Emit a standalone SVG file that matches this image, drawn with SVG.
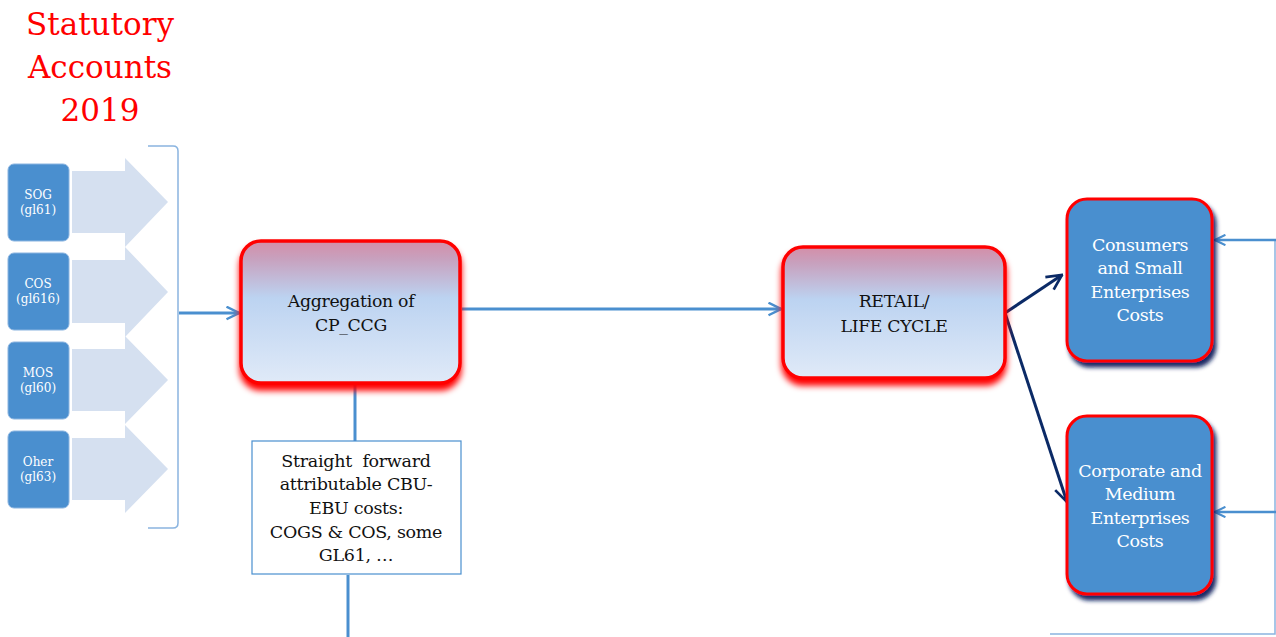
<svg xmlns="http://www.w3.org/2000/svg" width="1276" height="637" viewBox="0 0 1276 637">
<style>
.t{font-family:"DejaVu Serif","Liberation Serif",serif;text-anchor:middle}
.title{fill:#ff0000;font-size:31px}
.small{fill:#ffffff;font-size:12px}
.mid{fill:#111111;font-size:17.3px;letter-spacing:-0.3px}
.wt{fill:#ffffff;font-size:17.5px;letter-spacing:-0.4px}
.blk{fill:#111111;font-size:17.5px;letter-spacing:-0.3px}
.src{fill:#4a8fcf;stroke:#8ab4e0;stroke-width:1}
.bigarr{fill:#d5e0f0}
.grad{fill:url(#g1);stroke:#ff0000;stroke-width:3.5}
.blue{fill:#4a8fcf;stroke:#ff0000;stroke-width:3}
.ln{stroke:#4a8fcf;stroke-width:3;fill:none}
.ln2{stroke:#8ab4e0;stroke-width:1.5;fill:none}
.dk{stroke:#0b2a66;stroke-width:3;fill:none}
</style>
<defs>
<linearGradient id="g1" x1="0" y1="0" x2="0" y2="1">
<stop offset="0" stop-color="#d48ea8"/>
<stop offset="0.12" stop-color="#c8a0bd"/>
<stop offset="0.4" stop-color="#bcd3f1"/>
<stop offset="1" stop-color="#e0eaf8"/>
</linearGradient>
<filter id="redsh" x="-20%" y="-20%" width="140%" height="150%">
<feDropShadow dx="0" dy="6" stdDeviation="3" flood-color="#ff0000" flood-opacity="1"/>
</filter>
<filter id="navysh" x="-20%" y="-20%" width="140%" height="150%">
<feDropShadow dx="3" dy="5" stdDeviation="2" flood-color="#0b1f5c" flood-opacity="0.95"/>
</filter>
<marker id="ab" viewBox="0 0 12 12" refX="11" refY="6" markerWidth="5" markerHeight="5" markerUnits="strokeWidth" orient="auto">
<path d="M1,1 L11,6 L1,11" fill="none" stroke="#4a8fcf" stroke-width="2"/>
</marker>
<marker id="ad" viewBox="0 0 12 12" refX="11" refY="6" markerWidth="6" markerHeight="6" markerUnits="strokeWidth" orient="auto">
<path d="M1,1 L11,6 L1,11" fill="none" stroke="#0b2a66" stroke-width="1.8"/>
</marker>
</defs>
<rect width="1276" height="637" fill="#ffffff"/>

<g id="title">
<text class="t title" x="100" y="35">Statutory</text>
<text class="t title" x="100" y="78">Accounts</text>
<text class="t title" x="100" y="121">2019</text>
</g>

<g id="big-arrows">
<polygon class="bigarr" points="72,171 125,171 125,158 168,202 125,247 125,233 72,233"/>
<polygon class="bigarr" points="72,260 125,260 125,247 168,292 125,337 125,323 72,323"/>
<polygon class="bigarr" points="72,349 125,349 125,336 168,380 125,424 125,411 72,411"/>
<polygon class="bigarr" points="72,438 125,438 125,425 168,469 125,513 125,500 72,500"/>
</g>

<g id="sog"><rect class="src" x="8" y="164" width="61" height="77" rx="6"/>
<text class="t small" x="38" y="199">SOG</text><text class="t small" x="38" y="214">(gl61)</text></g>
<g id="cos"><rect class="src" x="8" y="253" width="61" height="77" rx="6"/>
<text class="t small" x="38" y="288">COS</text><text class="t small" x="38" y="303">(gl616)</text></g>
<g id="mos"><rect class="src" x="8" y="342" width="61" height="77" rx="6"/>
<text class="t small" x="38" y="377">MOS</text><text class="t small" x="38" y="392">(gl60)</text></g>
<g id="oher"><rect class="src" x="8" y="431" width="61" height="77" rx="6"/>
<text class="t small" x="38" y="466">Oher</text><text class="t small" x="38" y="481">(gl63)</text></g>

<g id="bracket">
<path class="ln2" d="M148,146 L173,146 Q178,146 178,151 L178,523 Q178,528 173,528 L148,528"/>
</g>

<g id="connectors">
<line class="ln" x1="179" y1="313" x2="239" y2="313" marker-end="url(#ab)"/>
<line class="ln" x1="462" y1="309" x2="781" y2="309" marker-end="url(#ab)"/>
<line class="ln" x1="355" y1="385" x2="355" y2="441"/>
<line class="ln" x1="348" y1="575" x2="348" y2="637"/>
<line class="dk" x1="1005" y1="313" x2="1062" y2="275" marker-end="url(#ad)"/>
<line class="dk" x1="1005" y1="313" x2="1067" y2="502" marker-end="url(#ad)"/>
<polyline class="ln2" points="1050,634 1275,634 1275,240"/>
<line class="ln" x1="1276" y1="240" x2="1215" y2="240" marker-end="url(#ab)" style="stroke-width:2.5"/>
<line class="ln" x1="1276" y1="512" x2="1215" y2="512" marker-end="url(#ab)" style="stroke-width:2.5"/>
</g>

<g id="aggregation">
<rect class="grad" x="241" y="241" width="219" height="142" rx="20" filter="url(#redsh)"/>
<text class="t mid" x="351" y="307">Aggregation of</text>
<text class="t mid" x="351" y="331">CP_CCG</text>
</g>

<g id="straight">
<rect x="252" y="441" width="209" height="133" fill="#ffffff" stroke="#4a8fcf" stroke-width="1.2"/>
<text class="t blk" x="356" y="467">Straight&#160; forward</text>
<text class="t blk" x="356" y="490">attributable CBU-</text>
<text class="t blk" x="356" y="514">EBU costs:</text>
<text class="t blk" x="356" y="538">COGS &amp; COS, some</text>
<text class="t blk" x="356" y="561">GL61, …</text>
</g>

<g id="retail">
<rect class="grad" x="783" y="247" width="222" height="131" rx="20" filter="url(#redsh)"/>
<text class="t mid" x="894" y="307">RETAIL/</text>
<text class="t mid" x="894" y="332">LIFE CYCLE</text>
</g>

<g id="consumers">
<rect class="blue" x="1067" y="199" width="145" height="162" rx="20" filter="url(#navysh)"/>
<text class="t wt" x="1140" y="251">Consumers</text>
<text class="t wt" x="1140" y="274">and Small</text>
<text class="t wt" x="1140" y="298">Enterprises</text>
<text class="t wt" x="1140" y="321">Costs</text>
</g>

<g id="corporate">
<rect class="blue" x="1067" y="416" width="145" height="178" rx="20" filter="url(#navysh)"/>
<text class="t wt" x="1140" y="477">Corporate and</text>
<text class="t wt" x="1140" y="500">Medium</text>
<text class="t wt" x="1140" y="524">Enterprises</text>
<text class="t wt" x="1140" y="547">Costs</text>
</g>
</svg>
